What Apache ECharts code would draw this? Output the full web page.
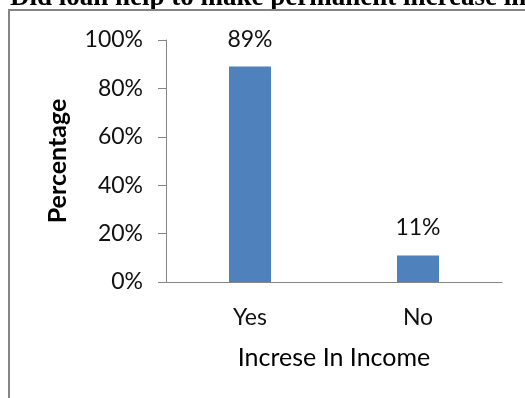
<!DOCTYPE html>
<html>
<head>
<meta charset="utf-8">
<script src="https://cdn.jsdelivr.net/npm/echarts@6/dist/echarts.min.js"></script>
<style>
  html, body { margin: 0; padding: 0; background: #fff; }
  #chart { width: 525px; height: 398px; }
</style>
</head>
<body>
<div id="chart"></div>
<script>
// Share of respondents reporting a permanent increase in income
const categories = ['Yes', 'No'];
const percentages = [89, 11];
const yTicks = [0, 20, 40, 60, 80, 100];

const chart = echarts.init(document.getElementById('chart'), null, { renderer: 'canvas' });

const labelFont = 'Lato, "Open Sans", sans-serif';

chart.setOption({
  animation: false,
  backgroundColor: '#ffffff',
  graphic: [
    {
      type: 'text',
      left: 10,
      top: -15,
      style: {
        text: 'Did loan help to make permanent increase in',
        font: 'bold 27px "Liberation Serif", "Times New Roman", serif',
        fill: '#000'
      },
      z: 10
    },
    {
      type: 'polyline',
      shape: { points: [[9, 398], [9, 10], [525, 10]] },
      style: { stroke: '#858585', lineWidth: 2, fill: null },
      z: 10
    }
  ],
  grid: { left: 166, right: 23, top: 40, bottom: 116 },
  xAxis: {
    type: 'category',
    data: categories,
    name: 'Increse In Income',
    nameLocation: 'middle',
    nameGap: 63,
    nameTextStyle: { fontFamily: labelFont, fontSize: 25, color: '#000' },
    axisLine: { lineStyle: { color: '#868686', width: 1 } },
    axisTick: { show: false },
    axisLabel: { fontFamily: labelFont, fontSize: 23, color: '#111', margin: 24 }
  },
  yAxis: {
    type: 'value',
    min: yTicks[0],
    max: yTicks[yTicks.length - 1],
    interval: yTicks[1] - yTicks[0],
    name: 'Percentage',
    nameLocation: 'middle',
    nameGap: 96,
    nameTextStyle: { fontFamily: labelFont, fontSize: 25, fontWeight: 'bold', color: '#000' },
    axisLine: { show: true, lineStyle: { color: '#868686', width: 1 } },
    axisTick: { show: true, length: 8, lineStyle: { color: '#868686' } },
    splitLine: { show: false },
    axisLabel: {
      fontFamily: labelFont, fontSize: 23, color: '#111', margin: 23,
      formatter: v => v + '%'
    }
  },
  series: [{
    type: 'bar',
    data: percentages,
    barWidth: '25%',
    itemStyle: { color: '#4F81BD' },
    label: {
      show: true,
      position: 'top',
      distance: 16,
      fontFamily: labelFont,
      fontSize: 23,
      color: '#111',
      formatter: p => p.value + '%'
    }
  }]
});
</script>
</body>
</html>
